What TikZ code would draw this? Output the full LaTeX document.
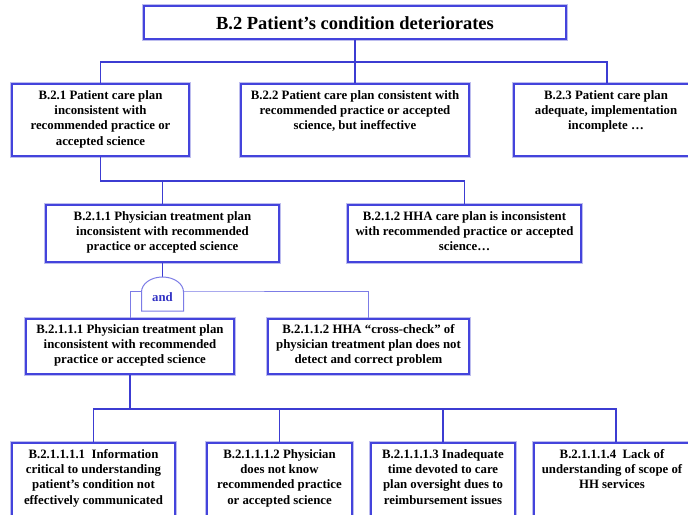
\documentclass[tikz,border=0pt]{standalone}
\usepackage{fontspec}
\setmainfont{Liberation Serif}
\definecolor{boxblue}{HTML}{4444DC}
\definecolor{halo}{HTML}{BDBDEE}
\definecolor{lineblue}{HTML}{3C3CD2}
\definecolor{liteblue}{HTML}{7C7CE6}
\definecolor{andblue}{HTML}{3333C4}
\begin{document}
\begin{tikzpicture}[x=1pt,y=-1pt,
  box/.style={draw=boxblue,line width=1.9pt,fill=white,inner sep=0pt,
    preaction={draw=halo,line width=3.6pt}},
  txt/.style={align=center,font=\bfseries\fontsize{12.8}{15.3}\selectfont,inner sep=0pt,anchor=north},
  conn/.style={draw=lineblue,line width=1.1pt},
  lite/.style={draw=liteblue,line width=1pt}]
\useasboundingbox (0,0) rectangle (688,514);
\fill[white] (0,0) rectangle (688,514);

% level 0
\node[box,minimum width=422pt,minimum height=33pt] (top) at (355,22.5) {};
\node[font=\bfseries\fontsize{18.5}{20}\selectfont,inner sep=0pt] (topt) at (355,23) {B.2 Patient’s condition deteriorates};

% level 1
\node[box,minimum width=177pt,minimum height=72pt] (b21) at (100.5,120) {};
\node[box,minimum width=228pt,minimum height=72pt] (b22) at (355,120) {};
\node[box,minimum width=184pt,minimum height=72pt] (b23) at (606,120) {};
\node[txt] (b21t) at ([yshift=-7pt]b21.north) {B.2.1 Patient care plan\\inconsistent with\\recommended practice or\\accepted science};
\node[txt] (b22t) at ([yshift=-7pt]b22.north) {B.2.2 Patient care plan consistent with\\recommended practice or accepted\\science, but ineffective};
\node[txt] (b23t) at ([yshift=-7pt]b23.north) {B.2.3 Patient care plan\\adequate, implementation\\incomplete …};

% level 2
\node[box,minimum width=233pt,minimum height=57pt] (b211) at (162.5,233.5) {};
\node[box,minimum width=233pt,minimum height=57pt] (b212) at (464.5,233.5) {};
\node[txt] (b211t) at ([yshift=-7pt]b211.north) {B.2.1.1 Physician treatment plan\\inconsistent with recommended\\practice or accepted science};
\node[txt] (b212t) at ([yshift=-7pt]b212.north) {B.2.1.2 HHA care plan is inconsistent\\with recommended practice or accepted\\science…};

% level 3
\node[box,minimum width=208pt,minimum height=55pt] (b2111) at (130,346.5) {};
\node[box,minimum width=201pt,minimum height=55pt] (b2112) at (368.5,346.5) {};
\node[txt] (b2111t) at ([yshift=-6pt]b2111.north) {B.2.1.1.1 Physician treatment plan\\inconsistent with recommended\\practice or accepted science};
\node[txt] (b2112t) at ([yshift=-6pt]b2112.north) {B.2.1.1.2 HHA “cross-check” of\\physician treatment plan does not\\detect and correct problem};

% level 4
\node[box,minimum width=163pt,minimum height=78pt] (c1) at (93.5,482) {};
\node[box,minimum width=145pt,minimum height=78pt] (c2) at (279.5,482) {};
\node[box,minimum width=144pt,minimum height=78pt] (c3) at (443,482) {};
\node[box,minimum width=156pt,minimum height=78pt] (c4) at (612,482) {};
\node[txt] (c1t) at ([yshift=-7pt]c1.north) {B.2.1.1.1.1\ \ Information\\critical to understanding\\patient’s condition not\\effectively communicated};
\node[txt] (c2t) at ([yshift=-7pt]c2.north) {B.2.1.1.1.2 Physician\\does not know\\recommended practice\\or accepted science};
\node[txt] (c3t) at ([yshift=-7pt]c3.north) {B.2.1.1.1.3 Inadequate\\time devoted to care\\plan oversight dues to\\reimbursement issues};
\node[txt] (c4t) at ([yshift=-7pt]c4.north) {B.2.1.1.1.4\ \ Lack of\\understanding of scope of\\HH services};

% connectors level 0 -> 1
\coordinate (j0) at (355,62);
\coordinate (j0r) at (607,62);
\draw[conn] (top.south) -- (j0);
\draw[conn] (b21.north) -- (b21.north |- j0) -- (j0r) -- (j0r |- b23.north);
\draw[conn] (j0) -- (b22.north);

% connectors level 1 -> 2
\coordinate (j1) at (100.5,181);
\draw[conn] (b21.south) -- (j1) -| (b212.north);
\draw[conn] (b211.north) -- (b211.north |- j1);

% and gate
\coordinate (gtop) at (162.5,277);
\coordinate (gbar) at (162.5,291);
\draw[conn] (b211.south) -- (gtop);
\draw[lite] (b2111.north) |- (gbar) -| (b2112.north);
\draw[lite,fill=white] (141.5,311) -- (141.5,292)
  arc[start angle=180,end angle=360,x radius=21,y radius=15] -- (183.5,311) -- cycle;
\node[text=andblue,font=\bfseries\fontsize{12.8}{14}\selectfont,inner sep=0pt] (andt) at (162.5,297) {and};

% connectors level 3 -> 4
\coordinate (j3) at (130,409);
\coordinate (j4) at (616,409);
\draw[conn] (b2111.south) -- (j3);
\draw[conn] (c1.north) -- (c1.north |- j3) -- (j4) -- (j4 |- c4.north);
\draw[conn] (c2.north) -- (c2.north |- j3);
\draw[conn] (c3.north) -- (c3.north |- j3);
\end{tikzpicture}
\end{document}
